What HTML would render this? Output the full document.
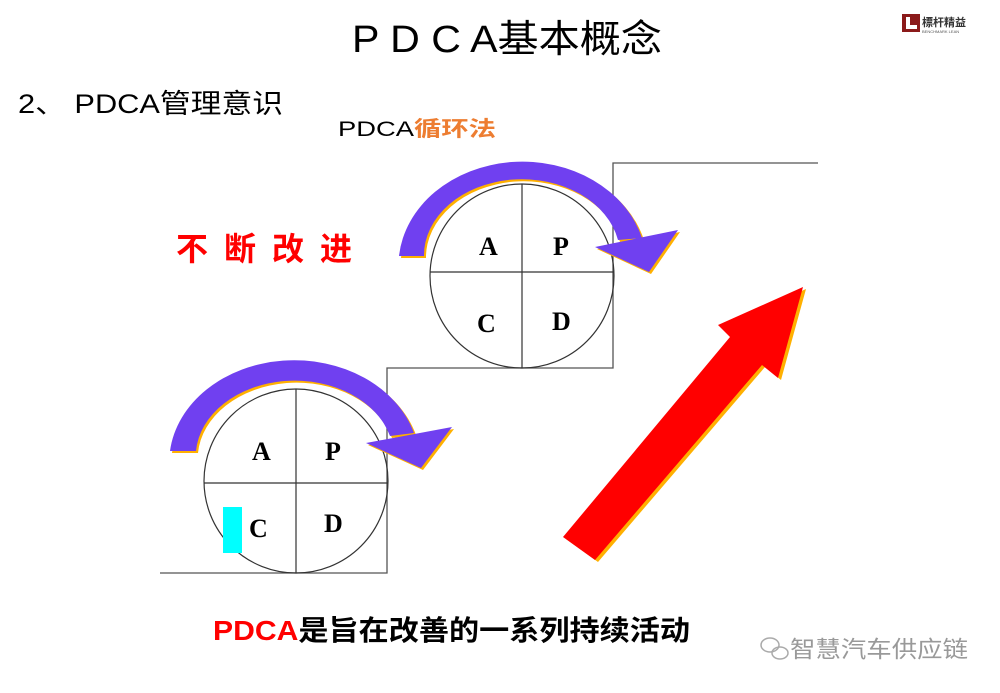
<!DOCTYPE html>
<html><head><meta charset="utf-8"><style>
html,body{margin:0;padding:0;background:#fff;}
svg{display:block;}
text{font-family:"Liberation Sans","Noto Sans CJK SC",sans-serif;}
.s{font-family:"Liberation Serif",serif;font-weight:bold;font-size:26px;}
</style></head><body>
<svg width="1000" height="693" viewBox="0 0 1000 693">
<text x="352" y="52" font-size="38" textLength="310" lengthAdjust="spacingAndGlyphs">P D C A基本概念</text>
<rect x="902" y="14" width="18" height="18" fill="#8b1a1a"/>
<path d="M906 17 L906 29 L917 29 L917 25 L910 25 L910 17Z" fill="#fff"/>
<text x="922" y="26" font-size="11" font-weight="bold" fill="#333">標杆精益</text>
<text x="922" y="33" font-size="4" fill="#555">BENCHMARK LEAN</text>
<text x="18" y="113" font-size="27" textLength="265" lengthAdjust="spacingAndGlyphs">2、 PDCA管理意识</text>
<text x="338" y="136" font-size="21" textLength="158" lengthAdjust="spacingAndGlyphs">PDCA<tspan fill="#ed7d31" font-weight="bold">循环法</tspan></text>
<text x="176" y="260" font-size="32" font-weight="bold" fill="#f00" textLength="176" lengthAdjust="spacing">不断改进</text>
<polyline points="818,163 613,163 613,368 387,368 387,573 160,573" fill="none" stroke="#555" stroke-width="1.3"/>
<g stroke="#333" stroke-width="1.2" fill="none">
<circle cx="522" cy="276" r="92"/><line x1="522" y1="184" x2="522" y2="368"/><line x1="430" y1="272" x2="614" y2="272"/>
<circle cx="296" cy="481" r="92"/><line x1="296" y1="389" x2="296" y2="573"/><line x1="204" y1="483" x2="388" y2="483"/>
</g>
<text class="s" x="479" y="255">A</text><text class="s" x="553" y="255">P</text>
<text class="s" x="477" y="332">C</text><text class="s" x="552" y="330">D</text>
<text class="s" x="252" y="460">A</text><text class="s" x="325" y="460">P</text>
<rect x="223" y="507" width="19" height="46" fill="#00ffff"/>
<text class="s" x="249" y="537">C</text><text class="s" x="324" y="532">D</text>
<g transform="translate(2,2)" fill="#ffb000">
<path d="M399 256 A124 104 0 0 1 642 238 L618 240 A98 76 0 0 0 424 256Z"/>
<polygon points="595,247 678,230 649,272"/>
<path d="M170 451 A125 102 0 0 1 414 433 L390 436 A99 76 0 0 0 196 451Z"/>
<polygon points="366,443 452,427 421,468"/>
</g>
<g fill="#7040f0">
<path d="M399 256 A124 104 0 0 1 642 238 L618 240 A98 76 0 0 0 424 256Z"/>
<polygon points="595,247 678,230 649,272"/>
<path d="M170 451 A125 102 0 0 1 414 433 L390 436 A99 76 0 0 0 196 451Z"/>
<polygon points="366,443 452,427 421,468"/>
</g>
<polygon transform="translate(3,2)" points="563,537 730,337 718,325 803,287 778,378 762,365 595,560" fill="#ffb000"/>
<polygon points="563,537 730,337 718,325 803,287 778,378 762,365 595,560" fill="#f00"/>
<text x="213" y="640" font-size="28" font-weight="bold" textLength="477" lengthAdjust="spacingAndGlyphs"><tspan fill="#f00">PDCA</tspan>是旨在改善的一系列持续活动</text>
<g fill="none" stroke="#aaa" stroke-width="1.5"><ellipse cx="770" cy="645" rx="9" ry="7"/><ellipse cx="780" cy="653" rx="8" ry="6"/></g>
<text x="790" y="657" font-size="23" fill="#999" textLength="178" lengthAdjust="spacingAndGlyphs">智慧汽车供应链</text>
</svg>
</body></html>
